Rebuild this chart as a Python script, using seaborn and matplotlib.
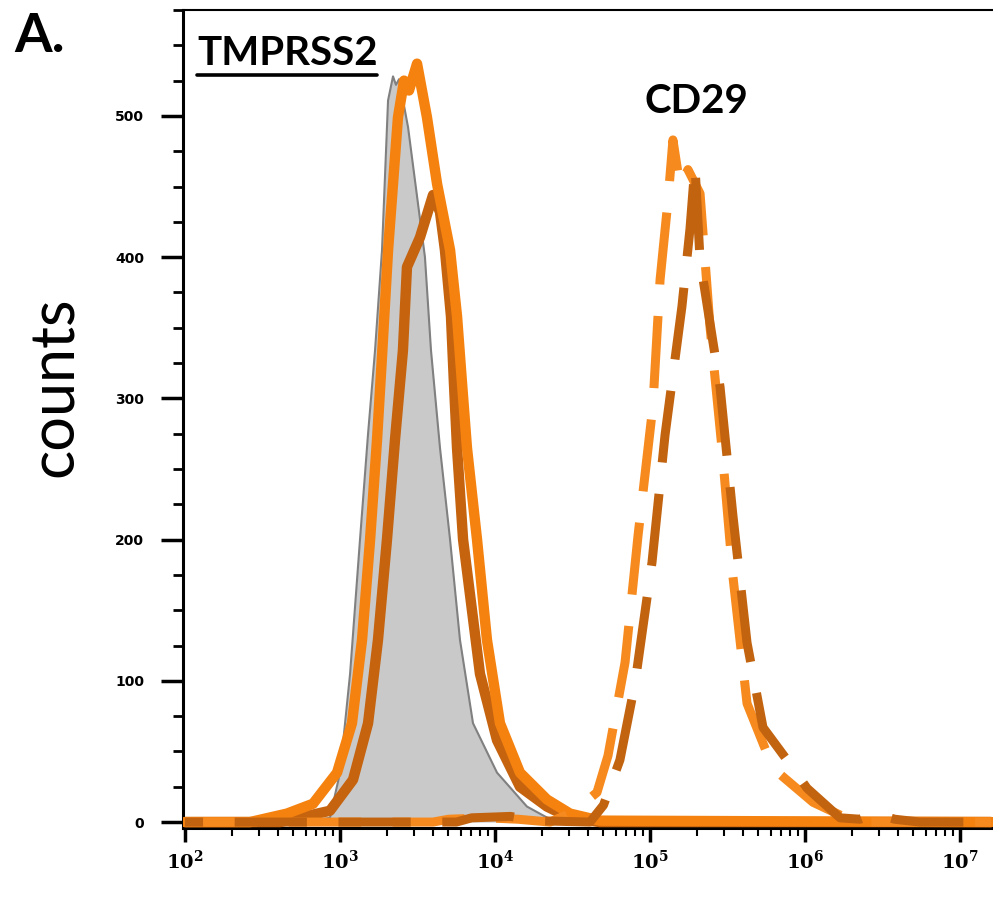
import matplotlib
matplotlib.use("Agg")
import matplotlib.pyplot as plt
import seaborn as sns
import numpy as np
from matplotlib.lines import Line2D
from matplotlib.ticker import FixedLocator, LogLocator, NullFormatter, FuncFormatter

# histogram outlines: log10(intensity) and counts
iso_log = [2.0, 2.742, 2.935, 3.0, 3.065, 3.129, 3.181, 3.226, 3.271, 3.31, 3.342, 3.361,
           3.381, 3.439, 3.548, 3.587, 3.645, 3.71, 3.774, 3.858, 4.013, 4.206, 4.355, 4.548, 7.2]
iso_counts = [0, 0, 3, 35, 105, 200, 275, 334, 405, 511, 528, 522,
              526, 492, 400, 334, 265, 200, 129, 70, 35, 11, 2, 0, 0]

tmprss2_a_log = [2.0, 2.419, 2.658, 2.826, 2.981, 3.077, 3.142, 3.194, 3.239, 3.271, 3.31, 3.374,
                 3.413, 3.445, 3.497, 3.561, 3.626, 3.71, 3.755, 3.787, 3.819, 3.884, 3.948, 4.032,
                 4.161, 4.335, 4.484, 4.677, 7.2]
tmprss2_a_counts = [0, 0, 6, 13, 35, 70, 129, 200, 271, 330, 405, 499,
                    525, 518, 537, 499, 452, 405, 358, 311, 265, 200, 129, 70,
                    35, 16, 6, 1, 0]

tmprss2_b_log = [2.0, 2.613, 2.935, 3.084, 3.181, 3.245, 3.303, 3.355, 3.406, 3.432, 3.516, 3.6,
                 3.645, 3.677, 3.716, 3.735, 3.755, 3.794, 3.903, 4.013, 4.161, 4.335, 4.484, 4.677, 7.2]
tmprss2_b_counts = [0, 0, 8, 30, 70, 129, 200, 271, 334, 393, 414, 444,
                    432, 405, 358, 311, 265, 200, 105, 58, 25, 11, 3, 0, 0]

cd29_a_log = [2.0, 3.6, 3.7, 3.95, 4.15, 4.355, 4.503, 4.658, 4.729, 4.839, 4.923, 5.019, 5.065,
              5.116, 5.148, 5.194, 5.245, 5.323, 5.387, 5.465, 5.535, 5.626, 5.794, 6.052, 6.245,
              6.4, 7.2]
cd29_a_counts = [0, 0, 2, 3, 2, 0, 7, 21, 47, 113, 203, 295, 384,
                 440, 483, 450, 462, 445, 351, 264, 174, 84, 38, 14, 4,
                 0, 0]

cd29_b_log = [2.0, 3.75, 3.85, 4.1, 4.25, 4.613, 4.70, 4.806, 4.903, 5.013, 5.097, 5.206, 5.258,
              5.29, 5.323, 5.452, 5.535, 5.626, 5.729, 5.884, 6.013, 6.226, 6.355, 6.452, 6.58,
              6.74, 7.2]
cd29_b_counts = [0, 0, 3, 4, 1, 0, 12, 44, 98, 184, 274, 365, 420,
                 465, 398, 308, 217, 127, 67, 44, 24, 3, 2, 6, 2,
                 0, 0]

y_major = [0, 100, 200, 300, 400, 500]
x_decades = [2, 3, 4, 5, 6, 7]

sns.set_style("ticks")
plt.rcParams['font.family'] = ['Lato', 'DejaVu Sans']
plt.rcParams['mathtext.fontset'] = 'dejavuserif'
plt.rcParams['text.color'] = 'black'
plt.rcParams['axes.labelcolor'] = 'black'
plt.rcParams['xtick.color'] = 'black'
plt.rcParams['ytick.color'] = 'black'

W, H = 993, 899
fig = plt.figure(figsize=(W / 100, H / 100), dpi=100)
ax = fig.add_axes([183 / W, 71 / H, 810 / W, 818 / H])
ax.set_xscale('log')

orange = '#f5820f'
dark_orange = '#c5630f'

iso_x = 10 ** np.array(iso_log)
ax.fill_between(iso_x, iso_counts, color='#c9c9c9', lw=0, zorder=1)
sns.lineplot(x=iso_x, y=iso_counts, color='#808080', lw=1.5, ax=ax,
             sort=False, estimator=None, zorder=2)

sns.lineplot(x=10 ** np.array(tmprss2_b_log), y=tmprss2_b_counts, color=dark_orange, lw=7.5,
             ax=ax, sort=False, estimator=None, zorder=3, solid_joinstyle='round')
sns.lineplot(x=10 ** np.array(tmprss2_a_log), y=tmprss2_a_counts, color=orange, lw=7.5,
             ax=ax, sort=False, estimator=None, zorder=4, solid_joinstyle='round')

sns.lineplot(x=10 ** np.array(cd29_a_log), y=cd29_a_counts, color='#f68a1e', lw=6.5,
             ax=ax, sort=False, estimator=None, zorder=5, linestyle=(0, (8, 3.5)))
sns.lineplot(x=10 ** np.array(cd29_b_log), y=cd29_b_counts, color='#c26310', lw=6.5,
             ax=ax, sort=False, estimator=None, zorder=5, linestyle=(6, (8, 3.5)))

ax.set_xlim(10 ** 1.987, 10 ** 7.213)
ax.set_ylim(-4.2, 575)

# axes styling
ax.spines['right'].set_visible(False)
ax.spines['left'].set_linewidth(2.2)
ax.spines['bottom'].set_linewidth(2.2)
ax.spines['top'].set_linewidth(1.5)
for s in ax.spines.values():
    s.set_color('black')

ax.xaxis.set_major_locator(FixedLocator([10.0 ** d for d in x_decades]))
ax.xaxis.set_minor_locator(LogLocator(base=10, subs=np.arange(2, 10)))
ax.xaxis.set_minor_formatter(NullFormatter())
ax.xaxis.set_major_formatter(FuncFormatter(lambda v, p: r'$\mathbf{10^{%d}}$' % round(np.log10(v))))
ax.tick_params(axis='x', which='major', length=10, width=2.5, pad=5, labelsize=14)
ax.tick_params(axis='x', which='minor', length=5.5, width=1.5)

ax.yaxis.set_major_locator(FixedLocator(y_major))
ax.yaxis.set_minor_locator(FixedLocator(np.arange(25, 576, 25)))
ax.set_yticklabels([str(v) for v in y_major], fontweight='bold', family='DejaVu Sans')
ax.tick_params(axis='y', which='major', length=16, width=2.5, pad=12, labelsize=10)
ax.tick_params(axis='y', which='minor', length=7, width=2)

ax.set_xlabel('')
ax.set_ylabel('counts', fontsize=44, va='center')
ax.yaxis.set_label_coords(-0.158, 0.539)

# annotations
fig.text(14 / W, 1 - 52 / H, 'A.', fontsize=39, fontweight='bold', va='baseline')
fig.text(197 / W, 1 - 65 / H, 'TMPRSS2', fontsize=29, fontweight='bold', va='baseline')
fig.add_artist(Line2D([197 / W, 377 / W], [1 - 75 / H] * 2, lw=2.6, color='black',
                      transform=fig.transFigure))
fig.text(645 / W, 1 - 113 / H, 'CD29', fontsize=29, fontweight='bold', va='baseline')

fig.savefig('out.png', dpi=100)
